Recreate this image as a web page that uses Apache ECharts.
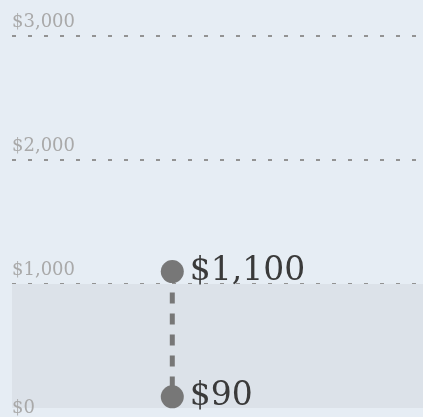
<!DOCTYPE html>
<html>
<head>
<meta charset="utf-8">
<style>
  html, body { margin: 0; padding: 0; background: #e6edf4; }
  #chart { width: 423px; height: 417px; }
</style>
<script src="https://cdn.jsdelivr.net/npm/echarts@6/dist/echarts.min.js"></script>
</head>
<body>
<div id="chart"></div>
<script>
// Two amounts joined by a dashed drop line, over a $0–$1,000 reference band
const position = [0.39, 0.39];
const amounts = [1100, 90];
const amountLabels = ['$1,100', '$90'];
const yTicks = [0, 1000, 2000, 3000];
const bandRange = [0, 1000];

const fmt = v => '$' + v.toLocaleString('en-US');
const yMin = yTicks[0];
const yMax = yTicks[yTicks.length - 1];

const labelFont = {
  inside: true,
  margin: 0,
  align: 'left',
  color: '#a9a9a9',
  fontFamily: 'DejaVu Serif',
  fontSize: 18,
  showMinLabel: true,
  showMaxLabel: true
};

const chart = echarts.init(document.getElementById('chart'), null, { renderer: 'canvas' });

chart.setOption({
  backgroundColor: '#e6edf4',
  animation: false,
  grid: { left: 12, right: 0, top: 36, bottom: 7.5 },
  xAxis: {
    type: 'value', min: 0, max: 1,
    show: false
  },
  yAxis: [
    {
      // gridlines and the labels that sit above them
      type: 'value',
      min: yMin, max: yMax, interval: 1000,
      z: 1,
      axisLine: { show: false },
      axisTick: { show: false },
      splitLine: {
        show: true,
        showMinLine: false,
        lineStyle: { color: '#939393', width: 2, type: [4, 12] }
      },
      axisLabel: Object.assign({}, labelFont, {
        verticalAlign: 'bottom',
        padding: [0, 0, 5, 0],
        formatter: v => (v === yMin ? '' : fmt(v))
      })
    },
    {
      // baseline label, set lower on the band edge
      type: 'value',
      position: 'left',
      min: yMin, max: yMax, interval: 1000,
      z: 1,
      axisLine: { show: false },
      axisTick: { show: false },
      splitLine: { show: false },
      axisLabel: Object.assign({}, labelFont, {
        verticalAlign: 'middle',
        padding: [0, 0, 10, 0],
        formatter: v => (v === yMin ? fmt(v) : '')
      })
    }
  ],
  series: [
    {
      // shaded reference band, kept under the axis labels and grid
      type: 'line',
      data: [],
      z: -1,
      markArea: {
        silent: true,
        itemStyle: { color: '#dce2e9' },
        data: [[{ yAxis: bandRange[0] }, { yAxis: bandRange[1] }]]
      }
    },
    {
      type: 'line',
      data: position.map((x, i) => [x, amounts[i]]),
      symbol: 'circle',
      symbolSize: 23,
      itemStyle: { color: '#777777' },
      lineStyle: { color: '#777777', width: 5, type: [11, 10] },
      label: {
        show: true,
        position: 'right',
        distance: 6,
        color: '#3a3a3a',
        fontFamily: 'DejaVu Serif',
        fontSize: 33,
        formatter: p => amountLabels[p.dataIndex]
      },
      z: 3
    }
  ]
});
</script>
</body>
</html>
